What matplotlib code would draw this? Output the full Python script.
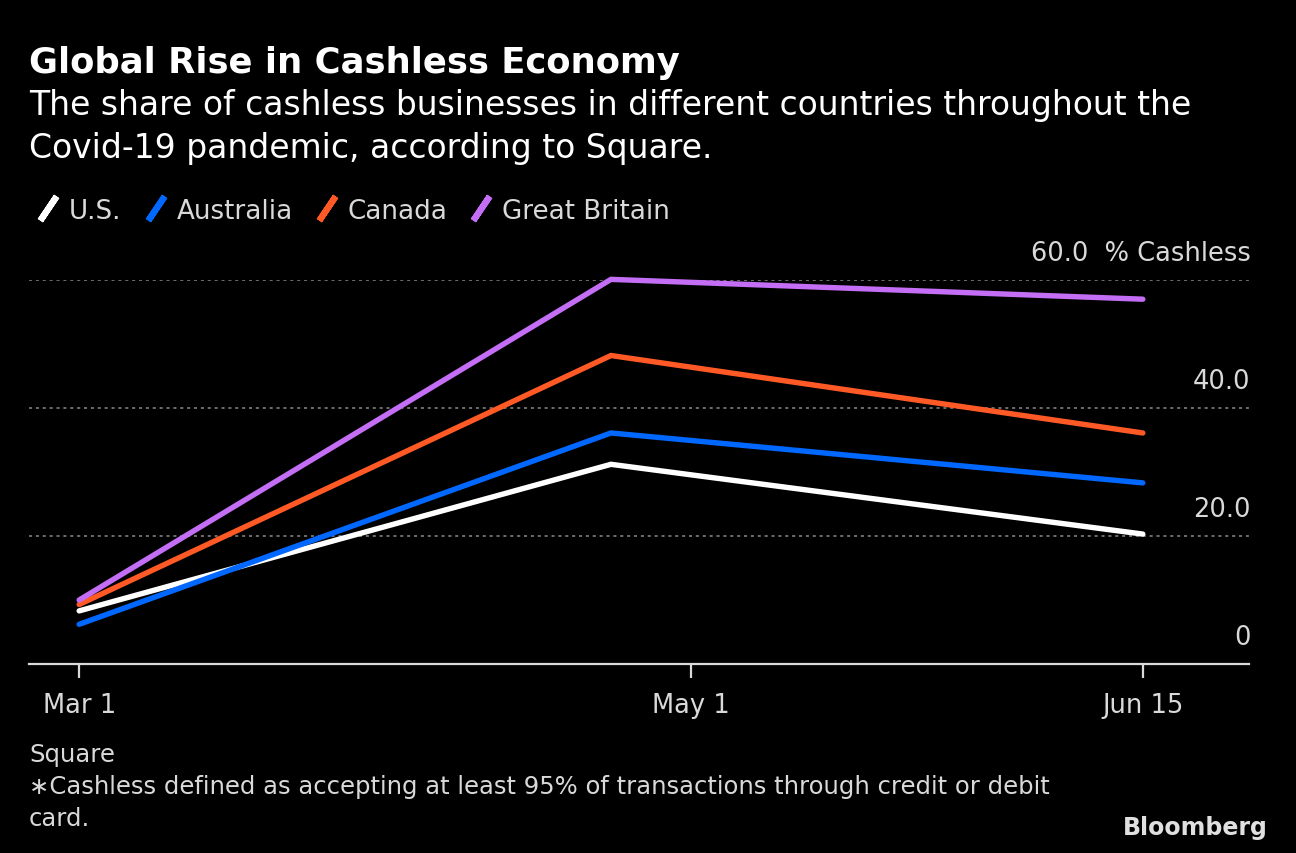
import numpy as np
import matplotlib
matplotlib.use('Agg')
import matplotlib.pyplot as plt
import matplotlib.dates as mdates
from matplotlib.lines import Line2D
import datetime as dt

# データ
dates = [dt.datetime(2020, 3, 1), dt.datetime(2020, 4, 23), dt.datetime(2020, 6, 15)]
countries = ['U.S.', 'Australia', 'Canada', 'Great Britain']
us = [8.3, 31.2, 20.3]
australia = [6.2, 36.1, 28.3]
canada = [9.3, 48.2, 36.1]
great_britain = [10.0, 60.1, 57.0]
series = [us, australia, canada, great_britain]
colors = ['#ffffff', '#0068ff', '#ff5a26', '#c36ef5']

yticks = [0, 20, 40, 60]
ytick_labels = ['0', '20.0', '40.0', '60.0  % Cashless']
xticks = [dt.datetime(2020, 3, 1), dt.datetime(2020, 5, 1), dt.datetime(2020, 6, 15)]
xtick_labels = ['Mar 1', 'May 1', 'Jun 15']

plt.rcParams['font.family'] = ['DejaVu Sans']
txt_col = '#d9d9d9'

fig = plt.figure(figsize=(12.96, 8.54), dpi=100, facecolor='black')
ax = fig.add_axes([29/1296, 1-665/854, 1220/1296, 384/854], facecolor='black')

for vals, c in zip(series, colors):
    ax.plot(dates, vals, color=c, linewidth=3.9, solid_capstyle='round',
            solid_joinstyle='miter', clip_on=False, zorder=3)

ax.set_xlim(dt.datetime(2020, 2, 25), dt.datetime(2020, 6, 25, 14))
ax.set_ylim(0, 60)

# グリッド
for y in yticks[1:]:
    ax.axhline(y, color='#8a8a8a', linewidth=1.1, linestyle=(0, (2, 2.5)), zorder=1)
for y, lab in zip(yticks, ytick_labels):
    ax.annotate(lab, xy=(1, y), xycoords=('axes fraction', 'data'),
                xytext=(1, 10), textcoords='offset points',
                ha='right', va='bottom', color=txt_col, fontsize=18.5)

for s in ['top', 'right', 'left']:
    ax.spines[s].set_visible(False)
ax.spines['bottom'].set_color('#d9d9d9')
ax.spines['bottom'].set_linewidth(1.6)
ax.set_yticks([])
ax.set_xticks(xticks)
ax.set_xticklabels(xtick_labels)
ax.tick_params(axis='x', colors='#d9d9d9', length=10, width=1.6, pad=10, labelsize=18.5)
for t in ax.get_xticklabels():
    t.set_color(txt_col)

# 凡例
handles = [Line2D([], [], marker=(2, 2, -34), markersize=21, markeredgewidth=4.5,
                  linestyle='none', color=c) for c in colors]
leg = fig.legend(handles, countries, loc='upper left', bbox_to_anchor=(0.01, 0.795),
                 ncol=4, frameon=False, fontsize=18.8, handlelength=0.9,
                 handletextpad=0.35, columnspacing=0.85, labelcolor=txt_col)

# タイトル
fig.text(29/1296, 1-63/854, 'Global Rise in Cashless Economy', color='white',
         fontsize=25.5, fontweight='bold', va='center')
fig.text(29/1296, 1-127/854,
         'The share of cashless businesses in different countries throughout the\n'
         'Covid-19 pandemic, according to Square.',
         color='white', fontsize=23.8, va='center', linespacing=1.38)

# 出典
fig.text(29/1296, 1-787/854,
         'Square\n\u2217Cashless defined as accepting at least 95% of transactions through credit or debit\ncard.',
         color=txt_col, fontsize=17.5, va='center', linespacing=1.42)
fig.text(1268/1296, 1-828/854, 'Bloomberg', color='#e0e0e0', fontsize=17,
         fontweight='bold', ha='right', va='center')

fig.savefig('out.png', dpi=100, facecolor='black')
